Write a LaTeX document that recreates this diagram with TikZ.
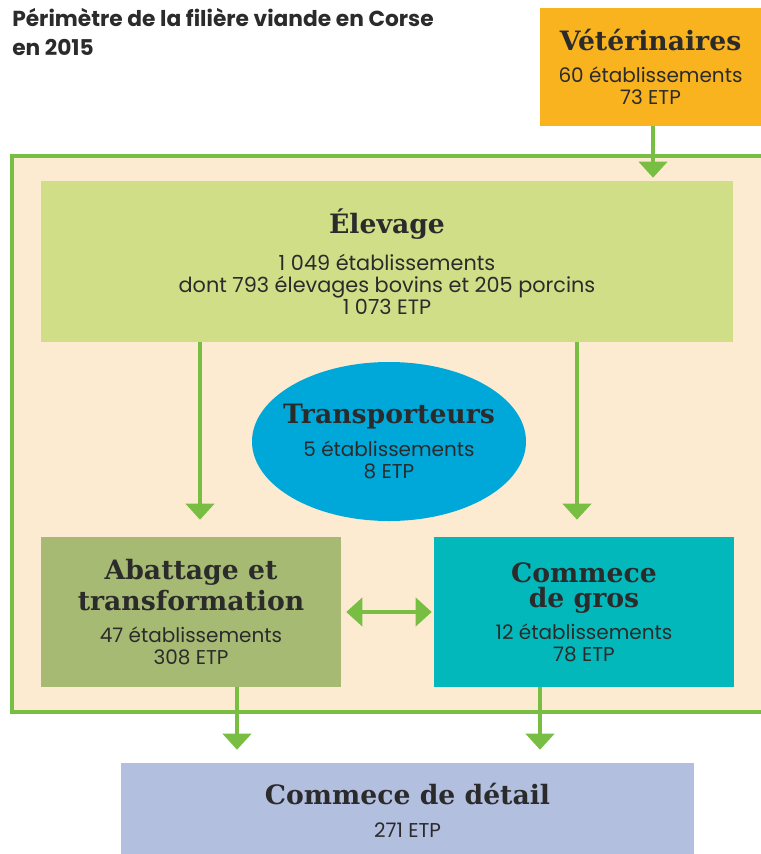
\documentclass[tikz,border=0pt]{standalone}
\usepackage{fontspec}
\usetikzlibrary{arrows.meta,shapes.geometric}
\newfontfamily\bodyfont{Poppins}
\newfontfamily\headfont{DejaVu Serif}
\definecolor{vetorange}{HTML}{F8B31F}
\definecolor{flowgreen}{HTML}{77BE43}
\definecolor{zonecream}{HTML}{FDEBD1}
\definecolor{elevgreen}{HTML}{D1DE88}
\definecolor{abatgreen}{HTML}{A7BA73}
\definecolor{groscyan}{HTML}{03B8BB}
\definecolor{transblue}{HTML}{00A8DA}
\definecolor{detailblue}{HTML}{B3BFDF}
\definecolor{ink}{HTML}{2B2B2B}
\newcommand\hd{\headfont\bfseries\fontsize{20}{22}\selectfont}
\newcommand\bd{\bodyfont\fontsize{15}{16.5}\selectfont}
\begin{document}
\begin{tikzpicture}
[x=0.75pt, y=-0.75pt, text=ink,
box/.style={rectangle, inner sep=0pt, align=center, font=\bd},
vetbox/.style={box, fill=vetorange, minimum width=165.75pt, minimum height=88.5pt},
elevbox/.style={box, fill=elevgreen, minimum width=519pt, minimum height=120.75pt, font=\bodyfont\fontsize{15.6}{16.5}\selectfont},
abatbox/.style={box, fill=abatgreen, minimum width=225pt, minimum height=112.5pt},
grosbox/.style={box, fill=groscyan, minimum width=225pt, minimum height=112.5pt},
detailbox/.style={box, fill=detailblue, minimum width=429.75pt, minimum height=70.5pt},
transell/.style={ellipse, fill=transblue, inner sep=0pt, minimum width=205.5pt, minimum height=119.25pt},
zone/.style={rectangle, draw=flowgreen, line width=3pt, fill=zonecream, minimum width=572.25pt, minimum height=417pt},
flow/.style={draw=flowgreen, line width=3pt, -{Triangle[width=21pt,length=12pt]}},
twoway/.style={draw=flowgreen, line width=3pt, {Triangle[width=21pt,length=12pt]}-{Triangle[width=21pt,length=12pt]}}]

\useasboundingbox (0,0) rectangle (761,854);

\node[zone] (perimetre) at (393.5,434) {};

\node[anchor=north west, inner sep=0pt, align=left, font=\bodyfont\bfseries\fontsize{16.3}{21.75}\selectfont] (titre) at (12,8) {Périmètre de la filière viande en Corse\\en 2015};

\node[vetbox] (vet) at (650.5,67) {{\hd Vétérinaires}\\[7.5pt]60 établissements\\73 ETP};
\node[elevbox] (elev) at (387,261.5) {{\hd Élevage}\\[10pt]1 049 établissements\\dont 793 élevages bovins et 205 porcins\\1 073 ETP};
\node[transell] (trans) at (389,441.5) {};
\node[box] (translabel) at (trans) {{\hd Transporteurs}\\[8.5pt]5 établissements\\8 ETP};
\node[abatbox] (abat) at (191,612) {{\hd Abattage et}\\[2.5pt]{\hd transformation}\\[7.5pt]47 établissements\\308 ETP};
\node[grosbox] (gros) at (584,612) {{\hd Commece}\\[2.5pt]{\hd de gros}\\[7.5pt]12 établissements\\78 ETP};
\node[detailbox] (detail) at (407.5,810) {{\hd Commece de détail}\\[8.5pt]271 ETP};

\draw[flow, shorten >=2.25pt] ([xshift=1.9pt]vet.south) -- ([xshift=1.9pt]vet.south |- elev.north);
\draw[flow, shorten >=12.75pt] ([xshift=6.75pt]abat.north |- elev.south) -- ([xshift=6.75pt]abat.north);
\draw[flow, shorten >=12.75pt] ([xshift=-5.25pt]gros.north |- elev.south) -- ([xshift=-5.25pt]gros.north);
\draw[twoway, shorten <=3.75pt, shorten >=1.5pt] (abat.east) -- (gros.west);
\draw[flow, shorten >=9.75pt] ([xshift=34.5pt]abat.south) -- ([xshift=34.5pt]abat.south |- detail.north);
\draw[flow, shorten >=9.75pt] ([xshift=-33pt]gros.south) -- ([xshift=-33pt]gros.south |- detail.north);
\end{tikzpicture}
\end{document}
